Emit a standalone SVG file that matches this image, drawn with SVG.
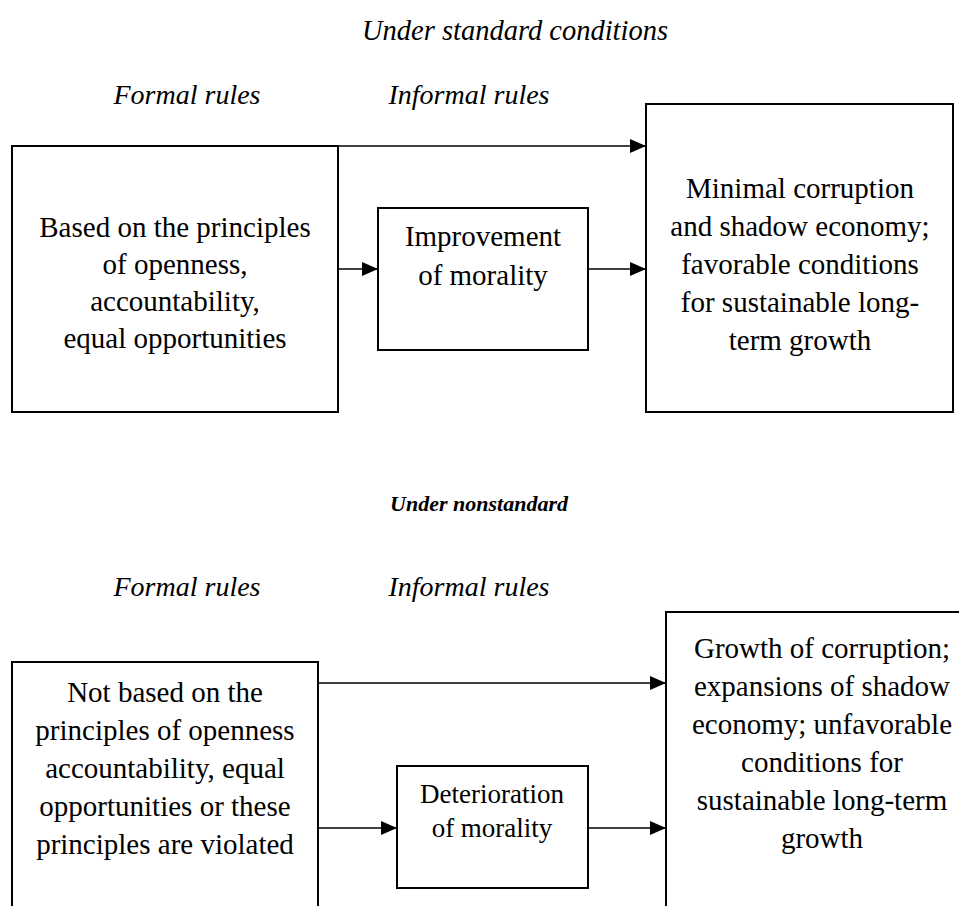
<svg xmlns="http://www.w3.org/2000/svg" width="959" height="906" viewBox="0 0 959 906">
  <defs>
    <marker id="arrow" markerUnits="userSpaceOnUse" markerWidth="16" markerHeight="14" refX="16" refY="7" orient="auto">
      <path d="M0,0 L16,7 L0,14 Z" fill="#000"/>
    </marker>
    <style>
      text { font-family: 'Liberation Serif', 'DejaVu Serif', serif; fill: #000; text-anchor: middle; }
      .box { fill: #fff; stroke: #000; stroke-width: 2; }
      .conn { fill: none; stroke: #000; stroke-width: 1.6; marker-end: url(#arrow); }
      .t { font-size: 29px; }
      .ts { font-size: 27px; }
      .h { font-size: 28.5px; font-style: italic; }
      .hl { font-size: 28px; font-style: italic; }
      .hb { font-size: 22px; font-style: italic; font-weight: bold; }
    </style>
  </defs>

  <rect width="959" height="906" fill="#fff"/>

  <!-- headings -->
  <g id="headings">
    <text class="h" x="515" y="40">Under standard conditions</text>
    <text class="hl" x="187" y="104">Formal rules</text>
    <text class="hl" x="469" y="104">Informal rules</text>
    <text class="hb" x="479" y="511">Under nonstandard</text>
    <text class="hl" x="187" y="596">Formal rules</text>
    <text class="hl" x="469" y="596">Informal rules</text>
  </g>

  <!-- standard conditions -->
  <g id="std-formal">
    <rect class="box" x="12" y="146" width="326" height="266"/>
    <text class="t" x="175" y="237">Based on the principles</text>
    <text class="t" x="175" y="274">of openness,</text>
    <text class="t" x="175" y="311">accountability,</text>
    <text class="t" x="175" y="348">equal opportunities</text>
  </g>
  <g id="std-informal">
    <rect class="box" x="378" y="208" width="210" height="142"/>
    <text class="t" x="483" y="246">Improvement</text>
    <text class="t" x="483" y="285">of morality</text>
  </g>
  <g id="std-result">
    <rect class="box" x="646" y="104" width="307" height="308"/>
    <text class="t" x="800" y="198">Minimal corruption</text>
    <text class="t" x="800" y="236">and shadow economy;</text>
    <text class="t" x="800" y="274">favorable conditions</text>
    <text class="t" x="800" y="312">for sustainable long-</text>
    <text class="t" x="800" y="350">term growth</text>
  </g>

  <!-- nonstandard conditions -->
  <g id="non-formal">
    <rect class="box" x="12" y="662" width="306" height="260"/>
    <text class="t" x="165" y="702">Not based on the</text>
    <text class="t" x="165" y="740">principles of openness</text>
    <text class="t" x="165" y="778">accountability, equal</text>
    <text class="t" x="165" y="816">opportunities or these</text>
    <text class="t" x="165" y="854">principles are violated</text>
  </g>
  <g id="non-informal">
    <rect class="box" x="397" y="766" width="191" height="122"/>
    <text class="ts" x="492" y="803">Deterioration</text>
    <text class="ts" x="492" y="837">of morality</text>
  </g>
  <g id="non-result">
    <rect class="box" x="666" y="612" width="310" height="310"/>
    <text class="t" x="822" y="658">Growth of corruption;</text>
    <text class="t" x="822" y="696">expansions of shadow</text>
    <text class="t" x="822" y="734">economy; unfavorable</text>
    <text class="t" x="822" y="772">conditions for</text>
    <text class="t" x="822" y="810">sustainable long-term</text>
    <text class="t" x="822" y="848">growth</text>
  </g>

  <!-- connectors -->
  <g id="connectors">
    <line class="conn" x1="338" y1="146" x2="646" y2="146"/>
    <line class="conn" x1="338" y1="269" x2="378" y2="269"/>
    <line class="conn" x1="588" y1="269" x2="646" y2="269"/>
    <line class="conn" x1="318" y1="683" x2="666" y2="683"/>
    <line class="conn" x1="318" y1="828" x2="397" y2="828"/>
    <line class="conn" x1="588" y1="828" x2="666" y2="828"/>
  </g>
</svg>
